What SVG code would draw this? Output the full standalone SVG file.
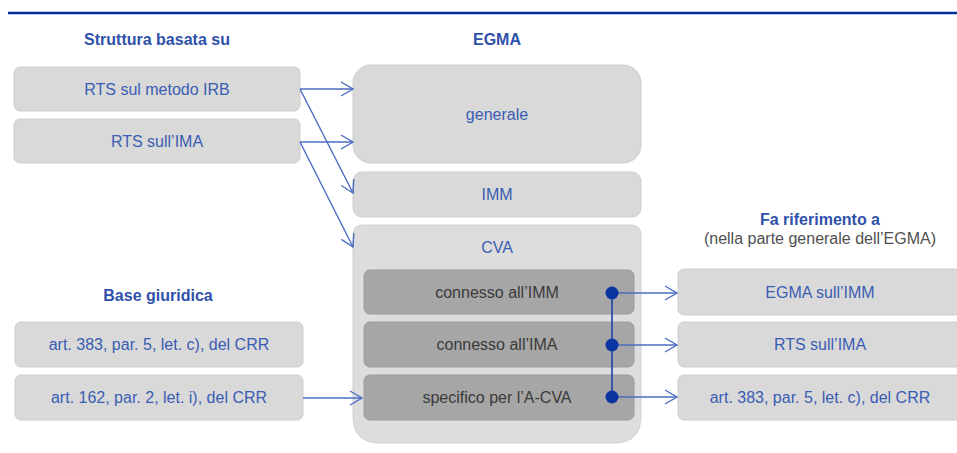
<svg xmlns="http://www.w3.org/2000/svg" width="957" height="453" viewBox="0 0 957 453">
<style>
.t{font-family:"Liberation Sans",Arial,sans-serif;font-size:16px;text-anchor:middle;fill:#3a5db3}
.h{font-family:"Liberation Sans",Arial,sans-serif;font-size:16px;font-weight:bold;text-anchor:middle;fill:#2f51aa}
.g{font-family:"Liberation Sans",Arial,sans-serif;font-size:16px;text-anchor:middle;fill:#505050}
.d{font-family:"Liberation Sans",Arial,sans-serif;font-size:16px;text-anchor:middle;fill:#3a3a3a}
.box{fill:#d9d9d9;stroke:#cdcdcd;stroke-width:1}
.outer{fill:#dddddd;stroke:#d0d0d0;stroke-width:1}
.inner{fill:#a6a6a6;stroke:#9c9c9c;stroke-width:1}
.c{stroke:#4a6cc2;stroke-width:1.4;fill:none}
.cd{stroke:#1c44a8;stroke-width:1.6;fill:none}
.dot{fill:#0a34a0}
</style>
<defs>
<marker id="ar" markerUnits="userSpaceOnUse" markerWidth="16" markerHeight="16" viewBox="0 0 16 16" refX="14" refY="8" orient="auto">
<path d="M2,1 L14,8 L2,15" fill="none" stroke="#4a6cc2" stroke-width="1.4"/>
</marker>
</defs>
<line x1="8" y1="13" x2="957" y2="13" stroke="#003399" stroke-width="2.5"/>

<g id="title-left"><text class="h" x="157" y="45">Struttura basata su</text></g>
<g id="title-egma"><text class="h" x="497" y="45">EGMA</text></g>
<g id="title-ref"><text class="h" x="820" y="225">Fa riferimento a</text><text class="g" x="820" y="244">(nella parte generale dell’EGMA)</text></g>
<g id="title-base"><text class="h" x="158" y="301">Base giuridica</text></g>

<g id="rts-irb"><rect class="box" x="14" y="67" width="286" height="44" rx="6"/><text class="t" x="157" y="95">RTS sul metodo IRB</text></g>
<g id="rts-ima-left"><rect class="box" x="14" y="119" width="286" height="44" rx="6"/><text class="t" x="157" y="147">RTS sull’IMA</text></g>
<g id="art383-left"><rect class="box" x="15" y="322" width="288" height="45" rx="6"/><text class="t" x="159" y="350">art. 383, par. 5, let. c), del CRR</text></g>
<g id="art162"><rect class="box" x="15" y="375" width="288" height="45" rx="6"/><text class="t" x="159" y="403">art. 162, par. 2, let. i), del CRR</text></g>

<g id="generale"><rect class="box" x="353" y="65" width="288" height="98" rx="18"/><text class="t" x="497" y="120">generale</text></g>
<g id="imm"><rect class="box" x="353" y="172" width="288" height="45" rx="9"/><text class="t" x="497" y="200">IMM</text></g>
<g id="cva">
<path class="outer" d="M363,225 H631 Q641,225 641,235 V416 Q641,443 614,443 H380 Q353,443 353,416 V235 Q353,225 363,225 Z"/>
<text class="t" x="497" y="253">CVA</text>
</g>
<g id="cva-imm"><rect class="inner" x="364" y="270" width="270" height="44" rx="6"/><text class="d" x="497" y="298">connesso all’IMM</text></g>
<g id="cva-ima"><rect class="inner" x="364" y="322" width="270" height="45" rx="6"/><text class="d" x="497" y="350">connesso all’IMA</text></g>
<g id="cva-acva"><rect class="inner" x="364" y="375" width="270" height="45" rx="6"/><text class="d" x="497" y="403">specifico per l’A-CVA</text></g>

<g id="egma-imm"><rect class="box" x="678" y="269" width="290" height="46" rx="6"/><text class="t" x="820" y="298">EGMA sull’IMM</text></g>
<g id="rts-ima-right"><rect class="box" x="678" y="322" width="290" height="45" rx="6"/><text class="t" x="820" y="350">RTS sull’IMA</text></g>
<g id="art383-right"><rect class="box" x="678" y="375" width="290" height="45" rx="6"/><text class="t" x="820" y="403">art. 383, par. 5, let. c), del CRR</text></g>

<g id="connectors">
<line class="c" x1="300" y1="89" x2="353" y2="89" marker-end="url(#ar)"/>
<line class="c" x1="300" y1="89" x2="353" y2="193" marker-end="url(#ar)"/>
<line class="c" x1="300" y1="142" x2="353" y2="142" marker-end="url(#ar)"/>
<line class="c" x1="300" y1="142" x2="353" y2="247" marker-end="url(#ar)"/>
<line class="c" x1="303" y1="398" x2="362" y2="398" marker-end="url(#ar)"/>
<line class="c" x1="612" y1="293" x2="677" y2="293" marker-end="url(#ar)"/>
<line class="c" x1="612" y1="345" x2="677" y2="345" marker-end="url(#ar)"/>
<line class="c" x1="612" y1="397" x2="677" y2="397" marker-end="url(#ar)"/>
<line class="cd" x1="612" y1="293" x2="612" y2="397"/>
<circle class="dot" cx="612" cy="293" r="6.5"/>
<circle class="dot" cx="612" cy="345" r="6.5"/>
<circle class="dot" cx="612" cy="397" r="6.5"/>
</g>
</svg>
